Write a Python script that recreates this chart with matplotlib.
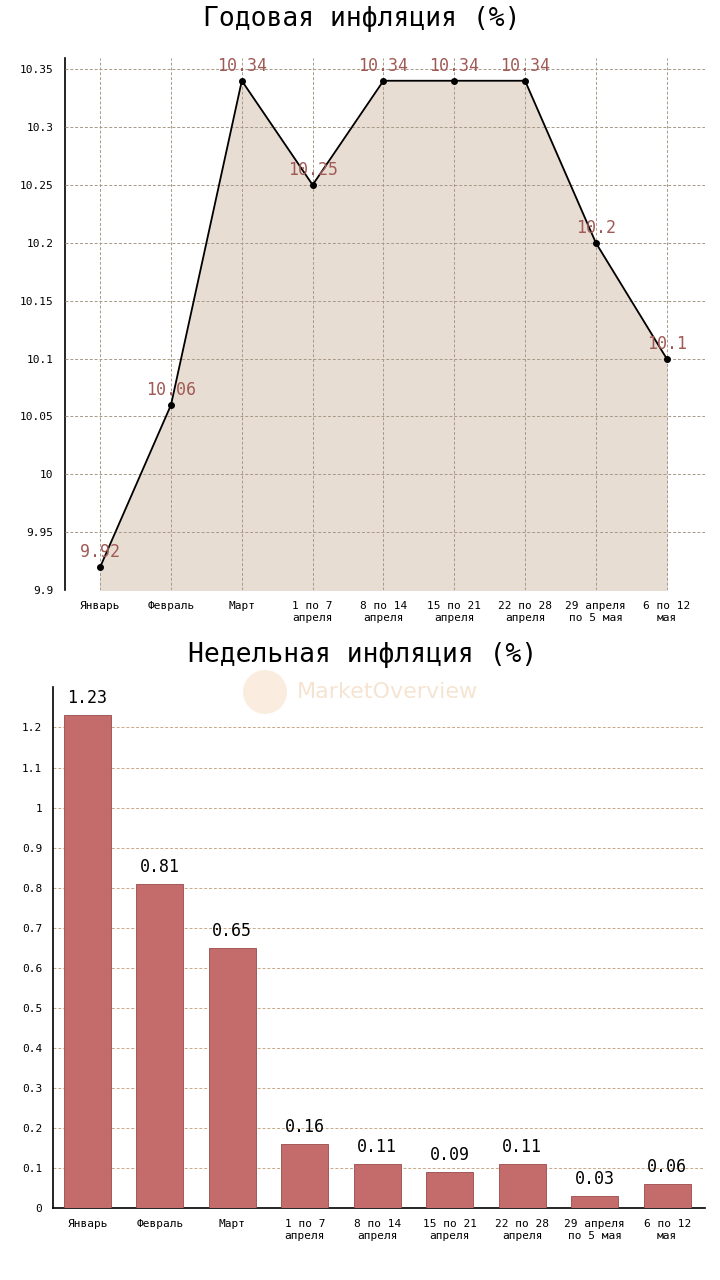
import matplotlib
matplotlib.use('Agg')
import matplotlib.pyplot as plt
from matplotlib.patches import Circle
import numpy as np

# данные
categories = ['Январь', 'Февраль', 'Март', '1 по 7\nапреля', '8 по 14\nапреля',
              '15 по 21\nапреля', '22 по 28\nапреля', '29 апреля\nпо 5 мая', '6 по 12\nмая']
annual = [9.92, 10.06, 10.34, 10.25, 10.34, 10.34, 10.34, 10.2, 10.1]
weekly = [1.23, 0.81, 0.65, 0.16, 0.11, 0.09, 0.11, 0.03, 0.06]
annual_ticks = [9.9, 9.95, 10, 10.05, 10.1, 10.15, 10.2, 10.25, 10.3, 10.35]
weekly_ticks = [0, 0.1, 0.2, 0.3, 0.4, 0.5, 0.6, 0.7, 0.8, 0.9, 1, 1.1, 1.2]

plt.rcParams['font.family'] = ['DejaVu Sans Mono']

def fmt(v):
    return ('%g' % v)

fig = plt.figure(figsize=(7.2, 12.8), dpi=100)
x = np.arange(len(categories))

# Годовая инфляция
ax1 = fig.add_axes([0.090, 0.539, 0.889, 0.416])
ax1.fill_between(x, annual, 9.9, color='#e8ddd3', zorder=1)
ax1.plot(x, annual, color='black', lw=1.3, marker='o', ms=4, zorder=3)
for xi, v in zip(x, annual):
    ax1.text(xi, v + 0.005, fmt(v), ha='center', va='bottom', fontsize=12,
             color='#a05a55', zorder=4)
ax1.set_xlim(-0.5, 8.54)
ax1.set_ylim(9.9, 10.36)
ax1.set_yticks(annual_ticks)
ax1.set_yticklabels([fmt(t) for t in annual_ticks], fontsize=8)
ax1.set_xticks(x)
ax1.set_xticklabels(categories, fontsize=8)
ax1.tick_params(length=0, pad=8)
ax1.grid(True, ls=(0, (3, 2)), color='#a89888', lw=0.7, zorder=2)
ax1.set_axisbelow(False)
for s in ['top', 'right', 'bottom']:
    ax1.spines[s].set_visible(False)
ax1.spines['left'].set_linewidth(1.2)
fig.text(0.503, 0.985, 'Годовая инфляция (%)', ha='center', va='center', fontsize=19)

# Недельная инфляция
ax2 = fig.add_axes([0.074, 0.056, 0.905, 0.407])
ax2.bar(x, weekly, width=0.65, color='#c46c6c', edgecolor='#9a4a4a', lw=0.6, zorder=3)
for xi, v in zip(x, weekly):
    ax2.text(xi, v + 0.02, fmt(v), ha='center', va='bottom', fontsize=12,
             color='black', zorder=4)
ax2.set_xlim(-0.47, 8.52)
ax2.set_ylim(0, 1.3)
ax2.set_yticks(weekly_ticks)
ax2.set_yticklabels([fmt(t) for t in weekly_ticks], fontsize=8)
ax2.set_xticks(x)
ax2.set_xticklabels(categories, fontsize=8)
ax2.tick_params(length=0, pad=8)
ax2.yaxis.grid(True, ls=(0, (3, 2)), color='#c8a888', lw=0.7, zorder=0)
for s in ['top', 'right']:
    ax2.spines[s].set_visible(False)
ax2.spines['left'].set_linewidth(1.2)
ax2.spines['bottom'].set_linewidth(1.2)
fig.text(0.503, 0.488, 'Недельная инфляция (%)', ha='center', va='center', fontsize=19)

# водяной знак
logo = Circle((2.65, 5.88), 0.22, transform=fig.dpi_scale_trans,
              facecolor='#f8e6d2', edgecolor='none', alpha=0.7)
fig.patches.append(logo)
fig.text(0.538, 0.459, 'MarketOverview', ha='center', va='center', fontsize=16,
         family='DejaVu Sans', color='#f3d9bf', alpha=0.7)

fig.savefig('out.png', dpi=100)
